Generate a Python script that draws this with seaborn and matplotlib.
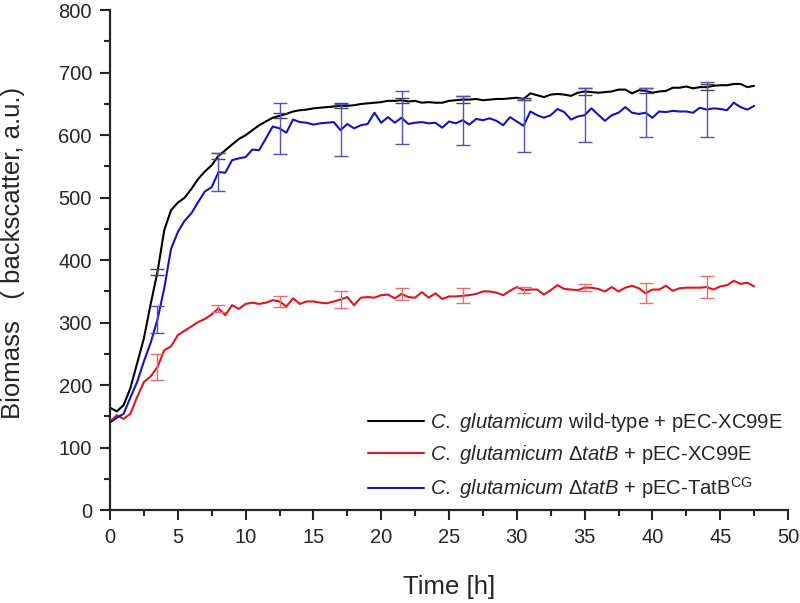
import numpy as np
import pandas as pd
import matplotlib
matplotlib.use("Agg")
import matplotlib.pyplot as plt
from matplotlib.ticker import MultipleLocator
import seaborn as sns

# time points, every 0.5 h
time_h = np.arange(0, 48, 0.5)

wild_type = [164, 158, 168, 195, 235, 275, 330, 381, 448, 480,
             492, 500, 514, 530, 542, 552, 567, 576, 585, 594,
             600, 608, 616, 622, 628, 631, 634, 638, 640, 641,
             643, 644, 645, 646, 647, 647, 648, 650, 651, 652,
             653, 655, 655, 656, 654, 655, 652, 653, 652, 652,
             655, 656, 657, 657, 658, 656, 657, 658, 658, 659,
             660, 658, 667, 664, 661, 665, 666, 665, 663, 668,
             670, 669, 668, 669, 670, 673, 673, 667, 672, 671,
             668, 670, 671, 676, 676, 678, 675, 677, 677, 679,
             680, 680, 682, 682, 677, 679]

delta_tatb = [141, 152, 146, 154, 181, 205, 214, 229, 256, 262,
              280, 287, 294, 301, 306, 313, 323, 312, 328, 322,
              330, 332, 330, 332, 336, 334, 326, 339, 330, 334,
              334, 332, 331, 334, 337, 341, 328, 340, 341, 340,
              344, 345, 339, 346, 341, 340, 349, 340, 347, 338,
              342, 342, 343, 344, 346, 350, 350, 348, 344, 351,
              357, 352, 353, 353, 345, 352, 360, 354, 353, 352,
              356, 356, 354, 350, 357, 350, 356, 359, 355, 347,
              353, 353, 359, 351, 355, 356, 356, 356, 357, 353,
              358, 360, 367, 362, 364, 358]

complemented = [140, 148, 154, 180, 205, 238, 268, 305, 355, 418,
                445, 463, 475, 493, 510, 517, 541, 540, 560, 563,
                565, 577, 576, 595, 614, 611, 604, 625, 621, 620,
                617, 619, 620, 621, 608, 618, 611, 616, 618, 636,
                620, 629, 620, 628, 618, 620, 621, 619, 620, 612,
                622, 619, 624, 617, 626, 624, 627, 623, 616, 629,
                622, 615, 638, 632, 628, 632, 642, 637, 625, 630,
                632, 643, 633, 623, 632, 636, 645, 636, 634, 636,
                628, 638, 637, 639, 638, 638, 636, 644, 641, 643,
                642, 640, 652, 645, 641, 647]

# error bars every 4.5 h
err_time = [3.5, 8, 12.5, 17, 21.5, 26, 30.5, 35, 39.5, 44]
err_wild_type = [5, 5, 4, 4, 4, 6, 2, 5, 4, 5]
err_delta_tatb = [21, 6, 9, 14, 9, 12, 5, 6, 16, 17]
err_complemented = [21, 31, 41, 42, 42, 39, 42, 43, 39, 44]

labels = [r"$\it{C.}$ $\it{glutamicum}$ wild-type + pEC-XC99E",
          r"$\it{C.}$ $\it{glutamicum}$ Δ$\it{tatB}$ + pEC-XC99E",
          r"$\it{C.}$ $\it{glutamicum}$ Δ$\it{tatB}$ + pEC-TatB$^{\rm CG}$"]
colors = ["#000000", "#e3141b", "#1414c0"]
err_colors = ["#444444", "#ee6a6e", "#5050c8"]

sns.set_style("ticks")
plt.rcParams['font.family'] = ['Liberation Sans', 'DejaVu Sans']
plt.rcParams['mathtext.fontset'] = 'custom'
plt.rcParams['mathtext.rm'] = 'Liberation Sans'
plt.rcParams['mathtext.it'] = 'Liberation Sans:italic'

df = pd.DataFrame({
    'time': np.tile(time_h, 3),
    'biomass': np.concatenate([wild_type, delta_tatb, complemented]),
    'strain': np.repeat(labels, len(time_h)),
})

fig = plt.figure(figsize=(8, 6.03), dpi=100)
ax = fig.add_axes([0.1375, 0.154, 0.8475, 0.829])

sns.lineplot(data=df, x='time', y='biomass', hue='strain', hue_order=labels,
             palette=colors, linewidth=1.5, ax=ax)

err_sets = [(wild_type, err_wild_type), (delta_tatb, err_delta_tatb),
            (complemented, err_complemented)]
idx = [int(round(t / 0.5)) for t in err_time]
for (series, err), c in zip(err_sets, err_colors):
    ax.errorbar(err_time, np.array(series)[idx], yerr=err, fmt='none',
                ecolor=c, elinewidth=1.0, capsize=5, capthick=1.0)

ax.set_xlim(0, 50)
ax.set_ylim(0, 800)
ax.xaxis.set_major_locator(MultipleLocator(5))
ax.xaxis.set_minor_locator(MultipleLocator(2.5))
ax.yaxis.set_major_locator(MultipleLocator(100))
ax.yaxis.set_minor_locator(MultipleLocator(50))
ax.tick_params(which='major', length=7, width=1.5, labelsize=14.5,
               direction='out', pad=6)
ax.tick_params(which='minor', length=4, width=1.5, direction='out')
for s in ['left', 'bottom']:
    ax.spines[s].set_linewidth(1.6)
sns.despine(ax=ax)

ax.set_xlabel("Time [h]", fontsize=18.5, labelpad=20)
ax.set_ylabel("Biomass   ( backscatter, a.u.)", fontsize=18.5)
ax.yaxis.set_label_coords(-0.125, 0.514)

ax.legend(loc='lower right', frameon=False, fontsize=14.6, handlelength=2.8,
          handletextpad=0.3, borderaxespad=0, labelspacing=0.45,
          bbox_to_anchor=(1.005, 0.002))

fig.savefig("out.png", dpi=100)
